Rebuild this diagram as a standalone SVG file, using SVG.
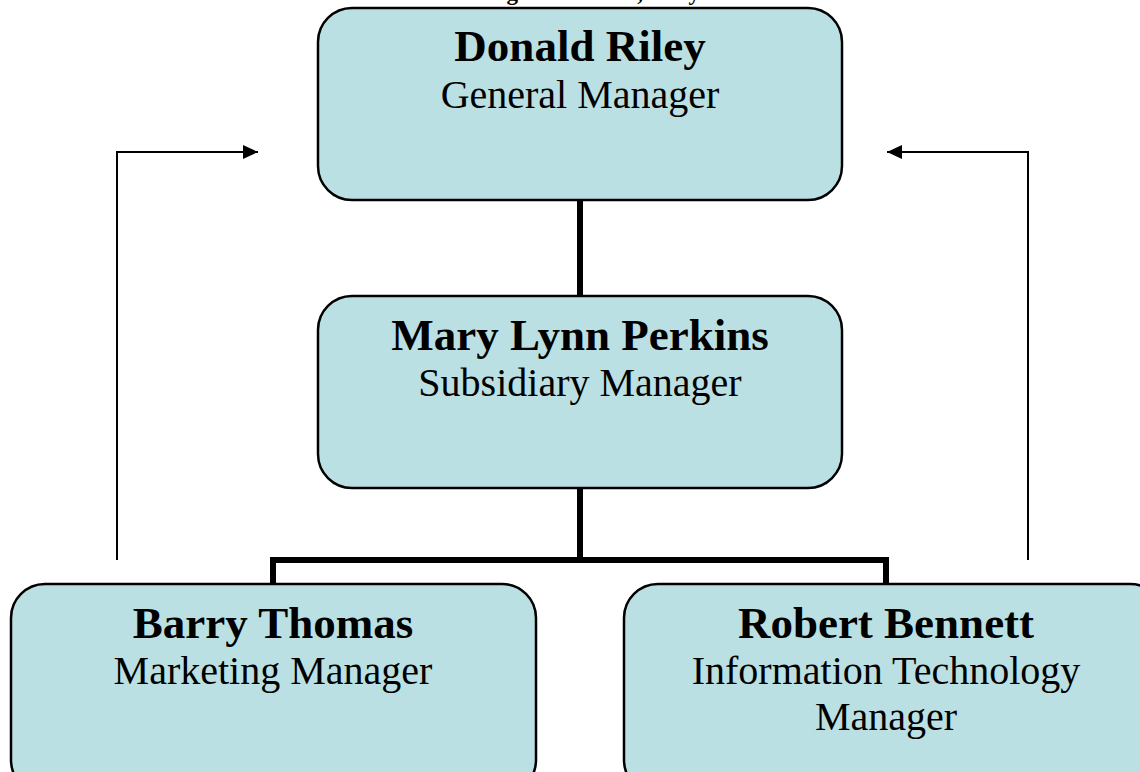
<svg xmlns="http://www.w3.org/2000/svg" width="1140" height="772" viewBox="0 0 1140 772">
<style>
.box{fill:#BBE0E3;stroke:#000;stroke-width:2.5}
.name{font-family:"Liberation Serif","Times New Roman",serif;font-weight:bold;font-size:45px;text-anchor:middle;fill:#000}
.role{font-family:"Liberation Serif","Times New Roman",serif;font-size:40px;text-anchor:middle;fill:#000}
.title{font-family:"Liberation Serif","Times New Roman",serif;font-weight:bold;font-size:23px;text-anchor:middle;fill:#000}
.thick{fill:none;stroke:#000;stroke-width:6}
.thin{fill:none;stroke:#000;stroke-width:2}
</style>
<defs>
<marker id="arr" markerWidth="16" markerHeight="14" refX="15" refY="7" orient="auto" markerUnits="userSpaceOnUse">
<path d="M0,0 L15,7 L0,14 Z" fill="#000"/>
</marker>
</defs>
<rect width="1140" height="772" fill="#fff"/>
<text class="title" x="592" y="0">Management Team, Riley SC</text>
<g id="connectors">
<line class="thick" x1="580" y1="200" x2="580" y2="296"/>
<polyline class="thick" points="580,488 580,560"/>
<polyline class="thick" points="273,584 273,560 886,560 886,584"/>
<polyline class="thin" points="117,560 117,152 258,152" marker-end="url(#arr)"/>
<polyline class="thin" points="1028,560 1028,152 887,152" marker-end="url(#arr)"/>
</g>
<g id="donald-riley">
<rect class="box" x="318" y="8" width="524" height="192" rx="34" ry="34"/>
<text class="name" x="580" y="61">Donald Riley</text>
<text class="role" x="580" y="108">General Manager</text>
</g>
<g id="mary-lynn-perkins">
<rect class="box" x="318" y="296" width="524" height="192" rx="34" ry="34"/>
<text class="name" x="580" y="350">Mary Lynn Perkins</text>
<text class="role" x="580" y="396">Subsidiary Manager</text>
</g>
<g id="barry-thomas">
<rect class="box" x="11" y="584" width="525" height="210" rx="34" ry="34"/>
<text class="name" x="273" y="638">Barry Thomas</text>
<text class="role" x="273" y="684">Marketing Manager</text>
</g>
<g id="robert-bennett">
<rect class="box" x="624" y="584" width="540" height="210" rx="34" ry="34"/>
<text class="name" x="886" y="638">Robert Bennett</text>
<text class="role" x="886" y="684">Information Technology</text>
<text class="role" x="886" y="730">Manager</text>
</g>
</svg>
